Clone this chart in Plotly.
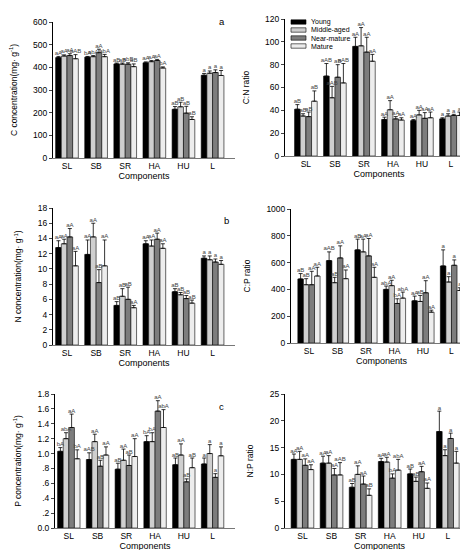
import plotly.graph_objects as go

W, H = 468, 550
components = ["SL", "SB", "SR", "HA", "HU", "L"]
stages = ["Young", "Middle-aged", "Near-mature", "Mature"]
stage_colors = ["#000000", "#cfcfcf", "#7d7d7d", "#ededed"]

c_val = [[443, 445, 415, 420, 215, 365],
         [450, 447, 414, 425, 226, 374],
         [452, 465, 414, 430, 198, 377],
         [438, 447, 403, 397, 170, 364]]
c_err = [[5, 3, 4, 4, 12, 8],
         [5, 5, 5, 5, 20, 10],
         [8, 15, 6, 5, 30, 12],
         [18, 10, 12, 5, 12, 22]]
c_lab = [["aA", "bA", "aB", "aA", "aB", "a"],
         ["aA", "abA", "aB", "aA", "aB", "a"],
         ["aA", "aA", "abB", "aA", "aB", "a"],
         ["aAB", "abA", "aB", "bA", "aB", "a"]]

n_val = [[12.8, 11.9, 5.2, 13.3, 7.0, 11.4],
         [13.3, 14.2, 6.4, 13.0, 6.6, 11.2],
         [14.2, 8.2, 6.0, 13.9, 6.1, 10.9],
         [10.4, 10.4, 4.9, 12.7, 5.5, 10.6]]
n_err = [[0.9, 1.9, 0.5, 0.4, 0.4, 0.3],
         [0.6, 1.8, 1.0, 0.8, 0.3, 0.5],
         [1.1, 1.7, 1.6, 0.8, 0.4, 0.4],
         [1.9, 3.4, 0.3, 0.6, 0.4, 0.5]]
n_lab = [["aA", "aA", "aB", "aA", "aB", "a"],
         ["aA", "aA", "aB", "aA", "aB", "a"],
         ["aA", "aB", "aB", "aA", "aB", "a"],
         ["aA", "aA", "aA", "aA", "aB", "a"]]

p_val = [[1.03, 0.92, 0.79, 1.16, 0.85, 0.86],
         [1.20, 1.16, 0.91, 1.16, 0.98, 1.00],
         [1.35, 0.83, 0.84, 1.57, 0.62, 0.68],
         [0.93, 0.98, 0.96, 1.35, 0.81, 0.97]]
p_err = [[0.05, 0.09, 0.08, 0.08, 0.09, 0.08],
         [0.08, 0.10, 0.15, 0.12, 0.15, 0.12],
         [0.18, 0.08, 0.14, 0.14, 0.04, 0.05],
         [0.12, 0.11, 0.24, 0.24, 0.13, 0.12]]
p_lab = [["bA", "aAB", "aB", "bA", "aB", "a"],
         ["abA", "aA", "aA", "bA", "aA", "a"],
         ["aA", "aB", "aB", "aA", "aB", "a"],
         ["bA", "aA", "aA", "abA", "aB", "a"]]

cn_val = [[41, 70, 96, 32, 31, 32.5],
          [35, 51, 96.5, 40.5, 36, 35],
          [34.5, 69, 91, 32.5, 33, 35.5],
          [48, 64, 83, 31.5, 33.5, 35.5]]
cn_err = [[4, 11, 8, 2, 1, 1],
          [2, 10, 16, 8, 4, 2],
          [4, 11, 13, 2, 5, 1],
          [9, 17, 6, 2, 5, 3]]
cn_lab = [["aB", "aAB", "aA", "aA", "aA", "a"],
          ["aB", "aAB", "aA", "aA", "aA", "a"],
          ["aB", "aB", "aA", "aA", "aA", "a"],
          ["aB", "aAB", "aA", "aA", "aA", "a"]]

cp_val = [[478, 615, 695, 400, 315, 575],
          [435, 450, 680, 428, 310, 455],
          [435, 635, 650, 295, 375, 580],
          [500, 480, 490, 335, 230, 392]]
cp_err = [[40, 65, 80, 25, 35, 120],
          [45, 40, 95, 40, 45, 40],
          [100, 90, 130, 35, 90, 40],
          [65, 65, 75, 45, 15, 20]]
cp_lab = [["aB", "aAB", "aB", "abA", "aA", "a"],
          ["aB", "aB", "aA", "aA", "aB", "a"],
          ["aA", "aA", "aA", "bA", "aA", "a"],
          ["aA", "aA", "aA", "abA", "aA", "a"]]

np_val = [[12.8, 12.1, 7.6, 12.4, 10.1, 18.0],
          [12.8, 12.1, 10.0, 12.3, 8.7, 13.5],
          [11.7, 9.9, 8.2, 9.3, 10.5, 16.7],
          [10.9, 9.9, 6.1, 10.8, 7.4, 12.1]]
np_err = [[1.0, 1.3, 0.7, 0.6, 0.9, 3.8],
          [1.5, 1.4, 1.6, 0.9, 0.8, 1.1],
          [1.2, 1.2, 1.5, 0.8, 1.0, 1.0],
          [0.9, 2.3, 1.2, 2.0, 1.0, 2.2]]
np_lab = [["aA", "aA", "aB", "aA", "aB", "a"],
          ["aA", "aA", "aA", "aA", "aB", "a"],
          ["aA", "aA", "aA", "bA", "aA", "a"],
          ["aA", "aAB", "aB", "abA", "aA", "a"]]

c_ticks = [0, 0.2, 0.4, 0.6, 0.8, 1.0, 1.2, 1.4, 1.6, 1.8]
c_ticktext = ["0.0", ".2", ".4", ".6", ".8", "1.0", "1.2", "1.4", "1.6", "1.8"]

BARGAP = 0.22
FONT = "Liberation Sans, Arial, sans-serif"

panels = [
    ("a", c_val, c_err, c_lab, "C concentration(mg· g<sup>-1</sup>)", [0, 600], 100,
     (45, 227, 14, 150), [-0.48, 5.77], (214, 13)),
    ("b", n_val, n_err, n_lab, "N concentration(mg· g<sup>-1</sup>)", [0, 18], 2,
     (45, 227, 200, 337), [-0.48, 5.77], (218, 213)),
    ("c", p_val, p_err, p_lab, "P concentration(mg· g<sup>-1</sup>)", [0, 1.8], 0.2,
     (47, 227, 386, 520), [-0.48, 5.78], (213, 398)),
    ("d", cn_val, cn_err, cn_lab, "C:N ratio", [0, 120], 20,
     (277, 465, 11, 148), [-0.72, 5.76], (456, 8)),
    ("e", cp_val, cp_err, cp_lab, "C:P ratio", [0, 1000], 200,
     (283, 464, 201, 335), [-0.63, 5.72], (457, 206)),
    ("f", np_val, np_err, np_lab, "N:P ratio", [0, 25], 5,
     (277, 466, 386, 520), [-0.6, 5.9], (456, 386)),
]

fig = go.Figure()
layout = dict(width=W, height=H, margin=dict(l=0, r=0, t=0, b=0, autoexpand=False),
              paper_bgcolor="white", plot_bgcolor="white",
              barmode="group", bargap=BARGAP, bargroupgap=0,
              showlegend=False, font=dict(family=FONT, color="black", size=8))
annotations = []
shapes = []
bw = (1 - BARGAP) / 4

for k, (letter, vals, errs, labs, ytitle, yr, dt, box, xr, lpos) in enumerate(panels, start=1):
    xa, ya = f"x{k}", f"y{k}"
    for j in range(4):
        fig.add_trace(go.Bar(
            x=list(range(6)), y=vals[j], name=stages[j],
            marker=dict(color=stage_colors[j], line=dict(color="black", width=0.6)),
            error_y=dict(type="data", symmetric=False, array=errs[j],
                         arrayminus=[0] * 6, color="black", thickness=0.8, width=2),
            xaxis=xa, yaxis=ya, offsetgroup=str(j)))
        fig.add_trace(go.Scatter(
            x=[i + (j - 1.5) * bw for i in range(6)],
            y=[v + e for v, e in zip(vals[j], errs[j])],
            text=labs[j], mode="text", textposition="top center",
            textfont=dict(size=6, color="#444", family=FONT),
            xaxis=xa, yaxis=ya, hoverinfo="skip", cliponaxis=False))
    x0, x1, y0, y1 = box
    sfx = "" if k == 1 else str(k)
    layout["xaxis" + sfx] = dict(
        domain=[x0 / W, x1 / W], range=xr, anchor=ya, automargin=False,
        tickmode="array", tickvals=list(range(6)), ticktext=components,
        showline=True, linecolor="#777", linewidth=1, ticks="",
        showgrid=False, zeroline=False, tickfont=dict(size=8.5),
        title=dict(text="Components", font=dict(size=9), standoff=0))
    ydict = dict(
        domain=[1 - y1 / H, 1 - y0 / H], range=yr, anchor=xa, automargin=False,
        showline=True, linecolor="black", linewidth=1, ticks="outside",
        ticklen=3, tickwidth=0.8, showgrid=False, zeroline=False,
        tickfont=dict(size=8.5), dtick=dt, tick0=0,
        title=dict(text=ytitle, font=dict(size=8.5), standoff=14))
    if letter == "c":
        ydict.update(tickmode="array", tickvals=c_ticks, ticktext=c_ticktext)
    layout["yaxis" + sfx] = ydict
    annotations.append(dict(text=letter, x=lpos[0] / W, y=1 - lpos[1] / H,
                            xref="paper", yref="paper", showarrow=False,
                            font=dict(size=9.5), xanchor="center", yanchor="middle"))

for j, name in enumerate(stages):
    ty = 14 + 8 * j
    shapes.append(dict(type="rect", xref="paper", yref="paper",
                       x0=283 / W, x1=298 / W, y0=1 - (ty + 2.2) / H, y1=1 - (ty - 2.2) / H,
                       fillcolor=stage_colors[j], line=dict(color="black", width=0.6)))
    annotations.append(dict(text=name, x=301 / W, y=1 - ty / H, xref="paper", yref="paper",
                            showarrow=False, xanchor="left", yanchor="middle",
                            font=dict(size=7)))

layout["annotations"] = annotations
layout["shapes"] = shapes
fig.update_layout(**layout)
fig.write_html("out.html")
